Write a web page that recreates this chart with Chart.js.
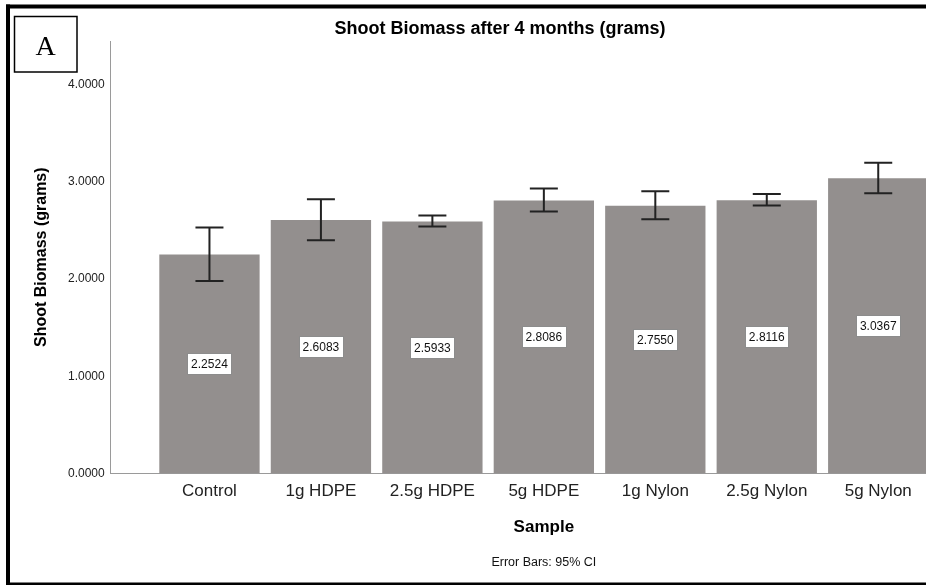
<!DOCTYPE html>
<html>
<head>
<meta charset="utf-8">
<script src="https://cdn.jsdelivr.net/npm/chart.js@4.4.1/dist/chart.umd.min.js"></script>
<style>
    html, body { margin: 0; padding: 0; background: #fff; overflow: hidden; }
    canvas { display: block; }
</style>
</head>
<body>
<canvas id="biomass_chart" width="1000" height="586"></canvas>
<script>
const categories = ["Control", "1g HDPE", "2.5g HDPE", "5g HDPE", "1g Nylon", "2.5g Nylon", "5g Nylon"];
const means = [2.2524, 2.6083, 2.5933, 2.8086, 2.7550, 2.8116, 3.0367];
const ci_lower = [1.979, 2.399, 2.540, 2.695, 2.615, 2.757, 2.884];
const ci_upper = [2.530, 2.822, 2.654, 2.932, 2.904, 2.876, 3.196];
const y_ticks = [0, 1, 2, 3, 4];

const font_sans = '"Liberation Sans", Arial, sans-serif';

// error bars + value boxes on top of the bars
const error_bars = {
    id: 'error_bars',
    afterDatasetsDraw(chart) {
        const ctx = chart.ctx
        const x = chart.scales.x
        const y = chart.scales.y
        ctx.save()
        ctx.strokeStyle = '#222'
        ctx.lineWidth = 2
        for (let i = 0; i < means.length; i++) {
            const px = x.getPixelForValue(i)
            const top = y.getPixelForValue(ci_upper[i])
            const bot = y.getPixelForValue(ci_lower[i])
            ctx.beginPath()
            ctx.moveTo(px, top); ctx.lineTo(px, bot)
            ctx.moveTo(px - 14, top); ctx.lineTo(px + 14, top)
            ctx.moveTo(px - 14, bot); ctx.lineTo(px + 14, bot)
            ctx.stroke()
        }
        ctx.font = '12px ' + font_sans
        ctx.textAlign = 'center'
        ctx.textBaseline = 'middle'
        for (let i = 0; i < means.length; i++) {
            const txt = means[i].toFixed(4)
            const px = x.getPixelForValue(i)
            const cy = y.getPixelForValue(means[i] / 2)
            const w = Math.round(ctx.measureText(txt).width + 7)
            const h = 21
            const bx = Math.round(px - w / 2) + 0.5
            const by = Math.round(cy - h / 2) + 0.5
            ctx.fillStyle = '#fff'
            ctx.fillRect(bx, by, w, h)
            ctx.strokeStyle = '#8c8c8c'
            ctx.lineWidth = 1
            ctx.strokeRect(bx, by, w, h)
            ctx.fillStyle = '#111'
            ctx.fillText(txt, px, cy + 1)
        }
        ctx.restore()
    }
}

// outer frame and the "A" panel box
const frame = {
    id: 'frame',
    afterDraw(chart) {
        const ctx = chart.ctx
        ctx.save()
        ctx.fillStyle = '#000'
        ctx.fillRect(6, 4.5, 1000, 4)
        ctx.fillRect(6, 4.5, 4, 580)
        ctx.fillRect(6, 582.5, 1000, 2.5)
        ctx.strokeStyle = '#000'
        ctx.lineWidth = 1.5
        ctx.strokeRect(14.5, 16.5, 62.5, 55.5)
        ctx.font = '28px "Liberation Serif", "Times New Roman", serif'
        ctx.textAlign = 'center'
        ctx.textBaseline = 'alphabetic'
        ctx.fillText('A', 45.7, 55)
        ctx.restore()
    }
}

const ctx_biomass = document.getElementById("biomass_chart");

const biomass_chart = new Chart(ctx_biomass, {
    type: 'bar',
    data: {
        datasets: [{
            label: 'Shoot Biomass',
            data: means.map((v, i) => ({ x: i, y: v })),
            backgroundColor: '#938f8e',
            borderWidth: 0,
            categoryPercentage: 1,
            barPercentage: 0.9
        }]
    },
    options: {
        responsive: false,
        animation: false,
        layout: { padding: 0 },
        plugins: {
            legend: { display: false },
            tooltip: { enabled: false },
            title: {
                display: true,
                text: 'Shoot Biomass after 4 months (grams)',
                color: '#000',
                font: { family: font_sans, size: 18, weight: 'bold' },
                padding: { top: 18.2, bottom: 1.2 }
            },
            subtitle: {
                display: true,
                position: 'bottom',
                fullSize: false,
                text: 'Error Bars: 95% CI',
                color: '#111',
                font: { family: font_sans, size: 12.5, weight: 'normal' },
                padding: { top: 14.3, bottom: 15.5 }
            }
        },
        scales: {
            x: {
                type: 'linear',
                offset: false,
                min: -0.886,
                max: 6.886,
                afterBuildTicks: (scale) => { scale.ticks = categories.map((c, i) => ({ value: i })) },
                grid: { display: false, drawTicks: false },
                border: { display: true, color: '#9a9a9a', width: 1 },
                ticks: {
                    padding: 8,
                    color: '#222',
                    font: { family: font_sans, size: 17 },
                    maxRotation: 0,
                    autoSkip: false,
                    callback: (v) => categories[v]
                },
                title: {
                    display: true,
                    text: 'Sample',
                    color: '#000',
                    font: { family: font_sans, size: 17, weight: 'bold' },
                    padding: { top: 7, bottom: 4 }
                }
            },
            y: {
                min: 0,
                max: 4.45,
                afterBuildTicks: (scale) => { scale.ticks = y_ticks.map(v => ({ value: v })) },
                afterFit: (scale) => { scale.width = 110.7 },
                grid: { display: false, drawTicks: false },
                border: { display: true, color: '#9a9a9a', width: 1 },
                ticks: {
                    padding: 6,
                    color: '#222',
                    font: { family: font_sans, size: 12 },
                    callback: (v) => v.toFixed(4)
                },
                title: {
                    display: true,
                    text: 'Shoot Biomass (grams)',
                    color: '#000',
                    font: { family: font_sans, size: 16, weight: 'bold' },
                    padding: { top: 32.1, bottom: 4 }
                }
            },
            // empty right-hand gutter so the chart area stops at 977px
            y_gutter: {
                position: 'right',
                display: true,
                grid: { display: false, drawTicks: false },
                border: { display: false },
                ticks: { display: false },
                afterFit: (scale) => { scale.width = 23 }
            }
        }
    },
    plugins: [error_bars, frame]
});
</script>
</body>
</html>
